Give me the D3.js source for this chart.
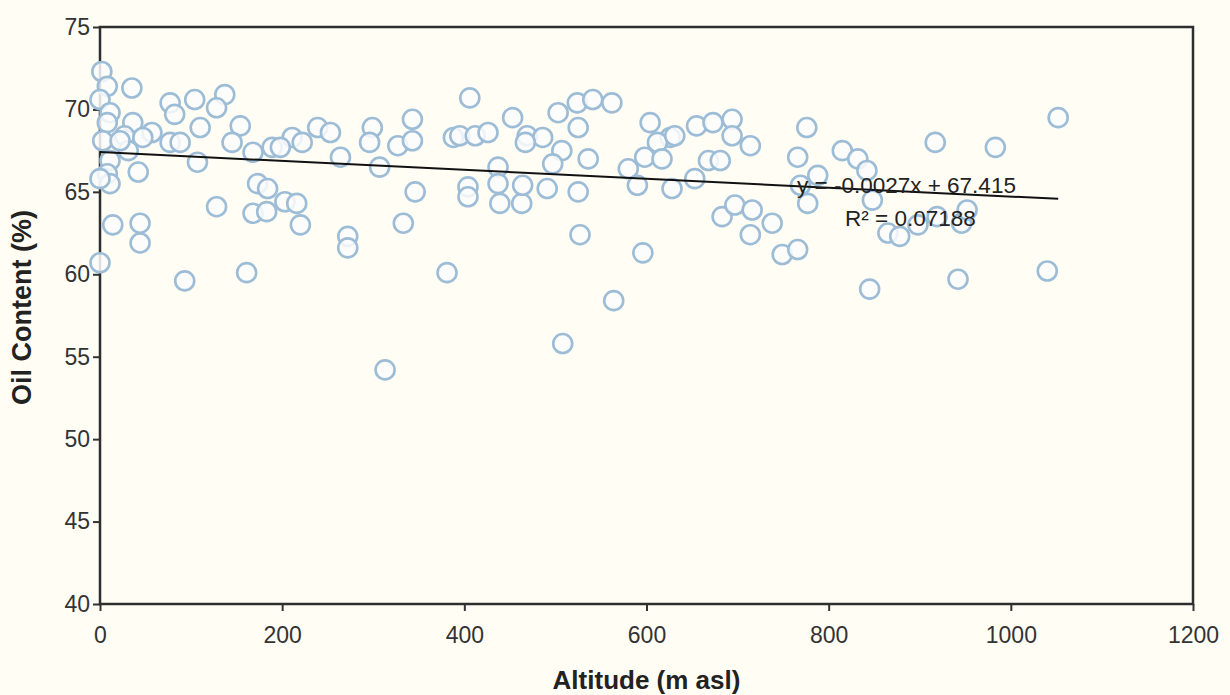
<!DOCTYPE html>
<html>
<head>
<meta charset="utf-8">
<script src="https://cdn.jsdelivr.net/npm/d3@7/dist/d3.min.js"></script>
<style>
  html, body { margin: 0; padding: 0; background: #fffdf4; }
  svg { display: block; }
  .tick text { font-family: "Liberation Sans", Arial, sans-serif; fill: #333; }
</style>
</head>
<body>
<div id="grafico"></div>
<script>
// ==============================
// DATOS
// ==============================

const altitude = [
  2, 8, 35, 0, 77, 104, 137, 82, 128, 11, 8, 36, 27, 110, 154, 3, 57, 77, 88, 145,
  168, 189, 11, 42, 107, 8, 11, 173, 184, 128, 168, 183, 14, 44, 44, 0, 93, 161,
  0, 31, 22, 47,
  239, 253, 211, 198, 222, 264, 299, 296, 307, 343, 327, 343, 388, 203, 216, 220,
  272, 272, 346, 333, 381, 313,
  406, 395, 412, 426, 453, 469, 486, 467, 503, 524, 541, 562, 525, 507, 497, 536,
  437, 580, 404, 404, 437, 439, 463, 464, 491, 525, 527, 564, 508,
  604, 655, 673, 694, 626, 612, 631, 694, 714, 598, 617, 668, 681, 590, 628, 653,
  776, 766, 769, 777, 683, 697, 716, 738, 714, 749, 766, 596,
  815, 832, 842, 788, 917, 983, 848, 865, 878, 898, 919, 946, 952, 845, 942, 1040, 1052
];

const oilContent = [
  72.3, 71.4, 71.3, 70.6, 70.4, 70.6, 70.9, 69.7, 70.1, 69.8, 69.2, 69.2, 68.4, 68.9, 69.0, 68.1, 68.6, 68.0, 68.0, 68.0,
  67.4, 67.7, 66.9, 66.2, 66.8, 66.1, 65.5, 65.5, 65.2, 64.1, 63.7, 63.8, 63.0, 63.1, 61.9, 60.7, 59.6, 60.1,
  65.8, 67.5, 68.1, 68.3,
  68.9, 68.6, 68.3, 67.7, 68.0, 67.1, 68.9, 68.0, 66.5, 69.4, 67.8, 68.1, 68.3, 64.4, 64.3, 63.0,
  62.3, 61.6, 65.0, 63.1, 60.1, 54.2,
  70.7, 68.4, 68.4, 68.6, 69.5, 68.4, 68.3, 68.0, 69.8, 70.4, 70.6, 70.4, 68.9, 67.5, 66.7, 67.0,
  66.5, 66.4, 65.3, 64.7, 65.5, 64.3, 64.3, 65.4, 65.2, 65.0, 62.4, 58.4, 55.8,
  69.2, 69.0, 69.2, 69.4, 68.3, 68.0, 68.4, 68.4, 67.8, 67.1, 67.0, 66.9, 66.9, 65.4, 65.2, 65.8,
  68.9, 67.1, 65.4, 64.3, 63.5, 64.2, 63.9, 63.1, 62.4, 61.2, 61.5, 61.3,
  67.5, 67.0, 66.3, 66.0, 68.0, 67.7, 64.5, 62.5, 62.3, 63.0, 63.5, 63.1, 63.9, 59.1, 59.7, 60.2, 69.5
];

const xTicks = [0, 200, 400, 600, 800, 1000, 1200];
const yTicks = [40, 45, 50, 55, 60, 65, 70, 75];

const pendiente = -0.0027;
const intercepto = 67.415;
const textoEcuacion = "y = -0.0027x + 67.415";
const textoR2 = "R² = 0.07188";

// ==============================
// SVG Y ESCALAS
// ==============================

const WIDTH = 1230, HEIGHT = 695;
const margin = { top: 27, right: 37, bottom: 91, left: 100 };

const svg = d3.select("#grafico").append("svg")
  .attr("width", WIDTH)
  .attr("height", HEIGHT);

svg.append("rect")
  .attr("width", WIDTH).attr("height", HEIGHT)
  .attr("fill", "#fffdf4");

const x = d3.scaleLinear().domain([0, 1200]).range([margin.left, WIDTH - margin.right]);
const y = d3.scaleLinear().domain([40, 75]).range([HEIGHT - margin.bottom, margin.top]);

// Ejes
const ejeX = svg.append("g")
  .attr("transform", `translate(0,${y(40)})`)
  .call(d3.axisBottom(x).tickValues(xTicks).tickSize(7).tickPadding(16).tickFormat(d3.format("d")));

const ejeY = svg.append("g")
  .attr("transform", `translate(${x(0)},0)`)
  .call(d3.axisLeft(y).tickValues(yTicks).tickSize(7).tickPadding(3));

[ejeX, ejeY].forEach(eje => {
  eje.select(".domain").remove();
  eje.selectAll(".tick line").attr("stroke", "#333").attr("stroke-width", 2);
  eje.selectAll(".tick text").style("font-size", "23px");
});

// Marco del área de trazado
svg.append("rect")
  .attr("x", x(0)).attr("y", y(75))
  .attr("width", x(1200) - x(0))
  .attr("height", y(40) - y(75))
  .attr("fill", "none")
  .attr("stroke", "#2e2e2e")
  .attr("stroke-width", 2.5);

// ==============================
// PUNTOS
// ==============================

const puntos = altitude.map((a, i) => ({ alt: a, oil: oilContent[i] }));

svg.append("g")
  .selectAll("circle")
  .data(puntos)
  .join("circle")
  .attr("cx", d => x(d.alt))
  .attr("cy", d => y(d.oil))
  .attr("r", 9.5)
  .attr("fill", "#fbfcfc")
  .attr("fill-opacity", 0.85)
  .attr("stroke", "#9dbcd6")
  .attr("stroke-width", 2.6);

// Línea de tendencia
const xMax = d3.max(altitude);
svg.append("line")
  .attr("x1", x(0)).attr("y1", y(intercepto))
  .attr("x2", x(xMax)).attr("y2", y(intercepto + pendiente * xMax))
  .attr("stroke", "#111")
  .attr("stroke-width", 2);

// Etiquetas de la ecuación
svg.append("text")
  .attr("x", 797).attr("y", 193)
  .style("font-family", "'Liberation Sans', Arial, sans-serif")
  .style("font-size", "22.5px")
  .attr("fill", "#222")
  .text(textoEcuacion);

svg.append("text")
  .attr("x", 845).attr("y", 226)
  .style("font-family", "'Liberation Sans', Arial, sans-serif")
  .style("font-size", "22.5px")
  .attr("fill", "#222")
  .text(textoR2);

// ==============================
// TÍTULOS DE EJES
// ==============================

svg.append("text")
  .attr("x", (x(0) + x(1200)) / 2)
  .attr("y", 689)
  .attr("text-anchor", "middle")
  .style("font-family", "'Liberation Sans', Arial, sans-serif")
  .style("font-size", "26px")
  .style("font-weight", "bold")
  .attr("fill", "#222")
  .text("Altitude (m asl)");

svg.append("text")
  .attr("transform", `translate(31,${(y(40) + y(75)) / 2 - 8}) rotate(-90)`)
  .attr("text-anchor", "middle")
  .style("font-family", "'Liberation Sans', Arial, sans-serif")
  .style("font-size", "27px")
  .style("font-weight", "bold")
  .attr("fill", "#222")
  .text("Oil Content (%)");
</script>
</body>
</html>
